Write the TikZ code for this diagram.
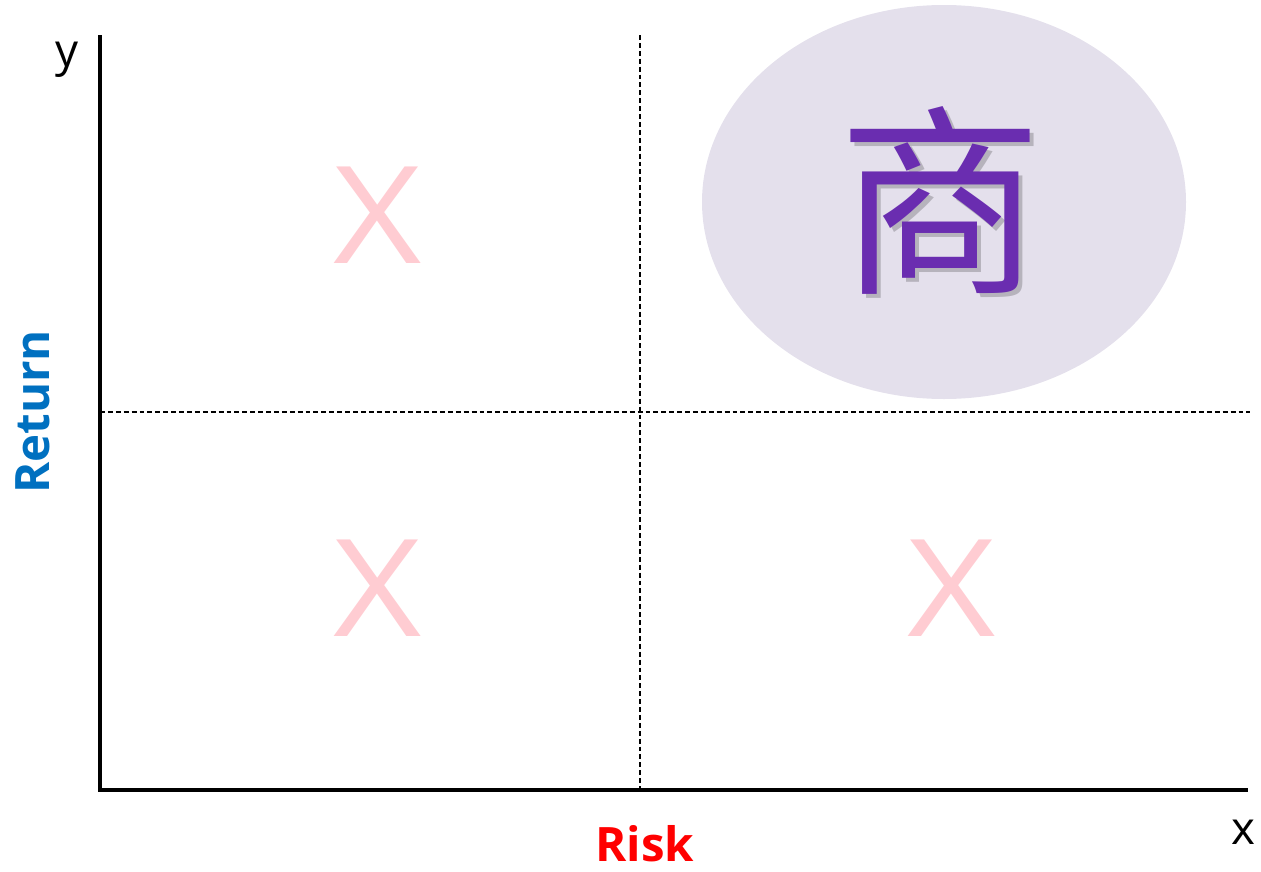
\documentclass[tikz,border=0pt]{standalone}
\usepackage{fontspec}
\setmainfont{Open Sans}
\newfontfamily\cjk{Noto Sans CJK SC}
\usepackage{xcolor}
\definecolor{retblue}{HTML}{0070C0}
\definecolor{riskred}{HTML}{FF0000}
\definecolor{crosspink}{HTML}{FFCCD2}
\definecolor{ovalfill}{HTML}{E4E0EC}
\definecolor{charpurple}{HTML}{6A2DB0}

\begin{document}
\begin{tikzpicture}
	[   x=0.02cm, y=-0.02cm,
	    axis/.style={draw=black,line width=2.2pt},
	    quad/.style={draw=black,line width=0.75pt,dash pattern=on 2.8pt off 1.7pt},
	    cross/.style={text=crosspink,font=\fontsize{77}{77}\selectfont,inner sep=0pt},
	    axlabel/.style={font=\fontsize{27}{27}\selectfont\bfseries,inner sep=0pt},
	]
	\useasboundingbox (0,0) rectangle (1261,872);
	\tikzset{letter/.style={font=\fontsize{26}{26}\selectfont,inner sep=0pt}}
	
	% axes
	\coordinate (o) at (100,790);
	\coordinate (ytop) at (100,35);
	\coordinate (xend) at (1248,790);
	\draw[axis] (ytop) -- (o) -- (xend);
	\node[letter,anchor=base] (ylab) at (67,66) {y};
	\node[letter,anchor=base] (xlab) at (1243,844) {x};
	
	% quadrant lines
	\coordinate (vtop) at (640,35);
	\coordinate (vbot) at (640,790);
	\coordinate (hleft) at (100,412);
	\coordinate (hright) at (1250,412);
	\path[quad] (vtop) -- (vbot);
	\path[quad] (hleft) -- (hright);
	
	% oval with the character
	\fill[ovalfill] (944,202) ellipse [x radius=242, y radius=197];
	\node[font=\cjk\fontsize{116}{116}\selectfont,text=black,text opacity=0.2,inner sep=0pt] (shadow) at (944,204) {商};
	\node[font=\cjk\fontsize{116}{116}\selectfont,text=charpurple,inner sep=0pt] (shang) at (940,200) {商};
	
	% crosses
	\foreach \px/\py [count=\i] in {378/215, 378/588, 952/588}
	{
		\node[cross] (x-\i) at (\px,\py) {\scalebox{1.13}[1]{X}};
	}
	
	% axis names
	\node[axlabel,text=retblue,rotate=90] (ret) at (33,412) {Return};
	\node[axlabel,text=riskred] (risk) at (645,844) {Risk};
\end{tikzpicture}
\end{document}
